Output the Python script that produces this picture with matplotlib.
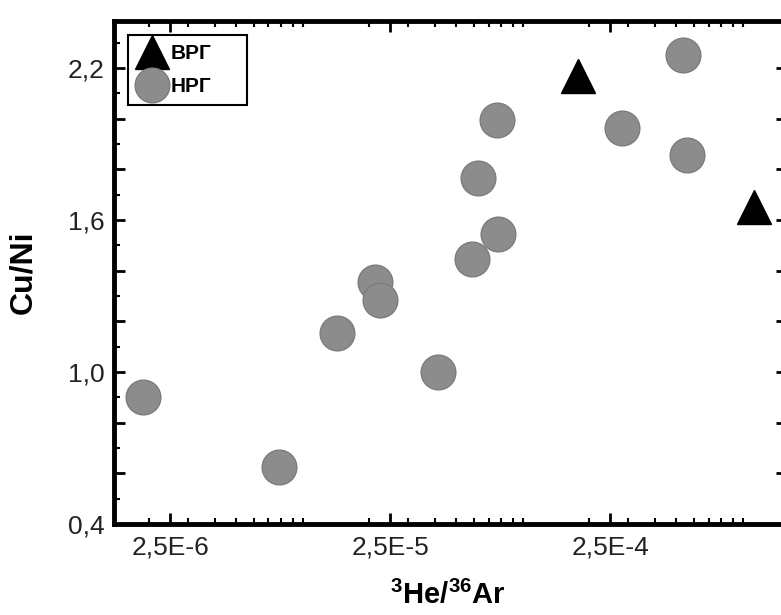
import numpy as np
import matplotlib
matplotlib.use("Agg")
from matplotlib import pyplot as plt
from matplotlib.ticker import FixedLocator, FixedFormatter, LogLocator, NullFormatter

plt.rcParams['font.family'] = ['Liberation Sans', 'DejaVu Sans']
plt.rcParams['mathtext.fontset'] = 'custom'
plt.rcParams['mathtext.rm'] = 'Liberation Sans'
plt.rcParams['mathtext.bf'] = 'Liberation Sans:bold'

# ВРГ (triangles)
vrg_he_ar = [1.79e-4, 1.13e-3]
vrg_cu_ni = [2.17, 1.65]

# НРГ (circles)
nrg_he_ar = [1.88e-6, 7.8e-6, 1.44e-5, 2.14e-5, 2.25e-5, 4.13e-5, 5.9e-5,
             6.28e-5, 7.66e-5, 7.74e-5, 2.84e-4, 5.37e-4, 5.6e-4]
nrg_cu_ni = [0.90, 0.625, 1.155, 1.355, 1.285, 1.00, 1.445,
             1.765, 1.995, 1.545, 1.965, 2.25, 1.855]

x_ticks = [2.5e-6, 2.5e-5, 2.5e-4]
x_tick_labels = ['2,5E-6', '2,5E-5', '2,5E-4']
y_ticks = [0.4, 0.6, 0.8, 1.0, 1.2, 1.4, 1.6, 1.8, 2.0, 2.2]
y_tick_labels = ['0,4', '', '', '1,0', '', '', '1,6', '', '', '2,2']

fig = plt.figure(figsize=(7.81, 6.15), dpi=100)
ax = fig.add_axes([114 / 781, 91 / 615, 673 / 781, 503 / 615])

ax.plot(nrg_he_ar, nrg_cu_ni, 'o', ms=25, color='#8c8c8c',
        mec='#7d7d7d', mew=1, ls='none', label='НРГ')
ax.plot(vrg_he_ar, vrg_cu_ni, '^', ms=24, color='black', ls='none', label='ВРГ')

ax.set_xscale('log')
ax.set_xlim(1.39e-6, 1.59e-3)
ax.set_ylim(0.4, 2.386)

ax.xaxis.set_major_locator(FixedLocator(x_ticks))
ax.xaxis.set_major_formatter(FixedFormatter(x_tick_labels))
ax.xaxis.set_minor_locator(LogLocator(base=10, subs=np.arange(1, 10)))
ax.xaxis.set_minor_formatter(NullFormatter())
ax.yaxis.set_major_locator(FixedLocator(y_ticks))
ax.yaxis.set_major_formatter(FixedFormatter(y_tick_labels))
ax.yaxis.set_minor_locator(FixedLocator(np.round(np.arange(0.5, 2.4, 0.2), 1)))

ax.tick_params(which='both', direction='in', top=True, right=True,
               labelsize=19, labelcolor='#222222')
ax.tick_params(which='major', length=8, width=2)
ax.tick_params(which='minor', length=4, width=1.5)
ax.tick_params(axis='y', pad=7)
ax.tick_params(axis='x', pad=8)

for s in ax.spines.values():
    s.set_linewidth(3.5)

ax.set_ylabel('Cu/Ni', fontsize=23, fontweight='bold', va='center')
ax.yaxis.set_label_coords(-0.135, 0.5)
ax.set_xlabel(r'$\mathbf{^{3}He/^{36}Ar}$', fontsize=21)
ax.xaxis.set_label_coords(0.496, -0.112)

handles, labels = ax.get_legend_handles_labels()
leg = ax.legend(handles[::-1], labels[::-1], loc='upper left',
                bbox_to_anchor=(0.0208, 0.0, 0.177, 0.972), mode='expand',
                prop={'weight': 'bold', 'size': 15}, frameon=True, fancybox=False,
                edgecolor='black', framealpha=1, handlelength=1.4,
                handletextpad=0.2, borderpad=0.45, labelspacing=0.65,
                borderaxespad=0)
leg.get_frame().set_linewidth(1.5)

fig.savefig('out.png', dpi=100)
